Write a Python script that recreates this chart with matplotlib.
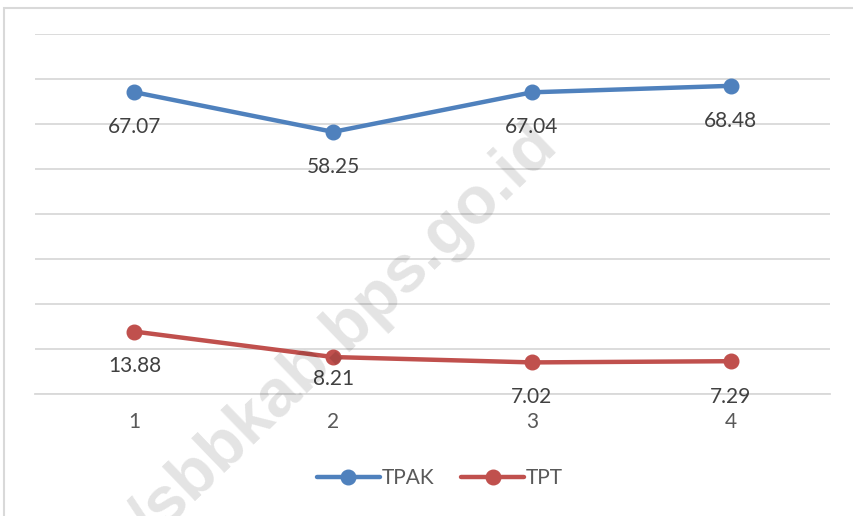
import matplotlib.pyplot as plt
from matplotlib.patches import Rectangle

# data
periods = ['1', '2', '3', '4']
tpak = [67.07, 58.25, 67.04, 68.48]
tpt = [13.88, 8.21, 7.02, 7.29]

blue = '#4F81BD'
red = '#C0504D'
grid_c = '#D9D9D9'
text_c = '#404040'

plt.rcParams['font.family'] = ['Lato', 'DejaVu Sans']

fig = plt.figure(figsize=(8.54, 5.16), dpi=100)
ax = fig.add_axes([35 / 854, 1 - 394 / 516, 795 / 854, 360 / 516])

x = list(range(1, len(periods) + 1))
ax.plot(x, tpak, color=blue, lw=3.2, marker='o', ms=10.5, label='TPAK',
        solid_capstyle='round', zorder=3)
ax.plot(x, tpt, color=red, lw=3.2, marker='o', ms=10.5, label='TPT',
        solid_capstyle='round', zorder=3)

# data labels below the points (one TPT label sits a bit higher)
for xi, v in zip(x, tpak):
    ax.annotate(f'{v:.2f}', (xi, v), xytext=(0, -25), textcoords='offset points',
                ha='center', va='center', fontsize=15, color=text_c)
tpt_off = [-25, -16, -25, -26]
for xi, v, o in zip(x, tpt, tpt_off):
    ax.annotate(f'{v:.2f}', (xi, v), xytext=(0, o), textcoords='offset points',
                ha='center', va='center', fontsize=15, color=text_c)

ax.set_xlim(0.5, len(periods) + 0.5)
ax.set_ylim(0, 80)
ax.set_yticks(range(0, 81, 10))
ax.set_yticklabels([])
ax.set_xticks(x)
ax.set_xticklabels(periods, fontsize=15, color='#595959')
ax.tick_params(axis='both', length=0)
ax.tick_params(axis='x', pad=13)
ax.grid(axis='y', color=grid_c, lw=1.3)
ax.set_axisbelow(True)
for s in ['top', 'right', 'left']:
    ax.spines[s].set_visible(False)
ax.spines['bottom'].set_color(grid_c)
ax.spines['bottom'].set_linewidth(1.3)

leg = fig.legend(loc='center', bbox_to_anchor=(440 / 854, 1 - 478 / 516), ncol=2,
                 frameon=False, fontsize=15, handlelength=3.0, handletextpad=0.1,
                 columnspacing=1.3)
for t in leg.get_texts():
    t.set_color('#595959')

# chart border
fig.patches.append(Rectangle((4 / 854, -0.01), 1.2, 1 - 8 / 516 + 0.01,
                             transform=fig.transFigure, fill=False,
                             edgecolor=grid_c, lw=1.5))

# watermark
fig.text(560 / 854, 1 - 149 / 516, '/sbbkab.bps.go.id', rotation=44,
         rotation_mode='anchor', ha='right', va='baseline', fontsize=48,
         fontweight='bold', family='Liberation Sans', color='black', alpha=0.11,
         zorder=10)

fig.savefig('out.png', dpi=100)
